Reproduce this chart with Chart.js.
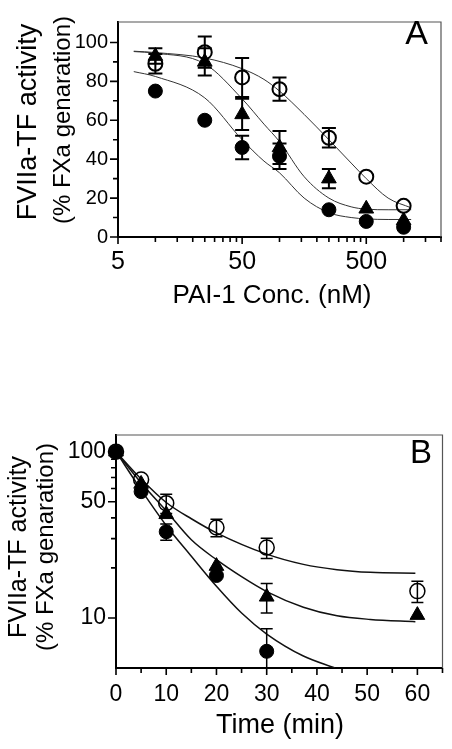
<!DOCTYPE html>
<html lang="en">
<head>
<meta charset="UTF-8">
<title>FVIIa-TF activity</title>
<style>
  body { margin: 0; background: #fff; }
  canvas { position: absolute; left: 0; }
</style>
</head>
<body>
<canvas id="chartA" width="452" height="375" style="top:0"></canvas>
<canvas id="chartB" width="452" height="374" style="top:375px"></canvas>

<script src="https://cdn.jsdelivr.net/npm/chart.js"></script>

<script>
    // ---- panel A : PAI-1 concentration ----
    const concA = [10, 25, 50, 100, 250, 500, 1000];
    const openA = [89, 95, 82, 76, 51, 31, 16];
    const openErrA = [5, 8, 10, 6, 5, 0, 0];
    const triA = [93, 90, 63, 46, 30, 14.5, 8.5];
    const triErrA = [4, 7, 8, 8.5, 5, 0, 0];
    const fillA = [75, 60, 46, 41.5, 14, 8, 5];
    const fillErrA = [0, 0, 6, 6.5, 0, 0, 0];

    // fitted curves
    const fitXA = [6.7, 10, 25, 50, 75, 100, 158, 250, 378, 500, 750, 1150];
    const fitOpenA = [95.5, 94.8, 92, 86.5, 81, 75, 63, 50, 38, 30, 20, 15];
    const fitTriA = [95.3, 94.5, 89, 71, 58, 49, 31, 20, 15.5, 14.3, 14, 14];
    const fitFillA = [85, 82.5, 71.5, 50, 39, 33, 20, 12.5, 10, 9.3, 9, 9];

    const xLabelsA = [5, 50, 500];
    const xMinorA = [10, 15, 20, 25, 30, 35, 40, 45, 100, 150, 200, 250, 300, 350, 400, 450, 1000, 1500, 2000];
    const yLabelsA = [0, 20, 40, 60, 80, 100];
    const yMinorA = [10, 30, 50, 70, 90];

    // ---- panel B : time course ----
    const timeB = [0, 5, 10, 20, 30, 60];
    const openB = [100, 68, 49, 35, 26.5, 14.5];
    const openErrB = [0, 0, 6.5, 4.2, 3.7, 2.1];
    const triB = [100, 64, 42, 20.5, 13.4, 10.4];
    const triErrB = [0, 0, 0, 0, 2.7, 0];
    const fillB = [100, 57.5, 33, 18, 6.3];
    const fillErrB = [0, 0, 3.7, 0, 2.3];

    const fitOpenXB = [0, 5, 10, 15, 20, 30, 37.3, 44, 50.6, 59.6];
    const fitOpenB = [100, 68.5, 49.5, 39.5, 32.5, 24.2, 21, 19.5, 18.8, 18.6];
    const fitTriXB = [0, 5, 10, 15, 20, 25, 30, 37.3, 44, 50.6, 59.6];
    const fitTriB = [100, 65, 44, 29.5, 22.4, 17.7, 14.4, 11.6, 10.3, 9.8, 9.5];
    const fitFillXB = [0, 5, 10, 15, 20, 25, 30, 37.3, 43.6];
    const fitFillB = [100, 59, 36, 23.5, 15.5, 10.7, 8.0, 5.9, 5.0];

    const xLabelsB = [0, 10, 20, 30, 40, 50, 60];
    const xMinorB = [5, 15, 25, 35, 45, 55, 65];
    const yLabelsB = [10, 50, 100];
    const yMinorB = [20, 30, 40, 60, 70, 80, 90];

    const FONT = "'Liberation Sans', Arial, Helvetica, sans-serif";

    function pts(xs, ys) {
        return ys.map((y, i) => ({x: xs[i], y: y}));
    }

    // error bars drawn from the scales
    const errorBars = {
        id: 'errorBars',
        afterDatasetsDraw(chart) {
            const ctx = chart.ctx;
            const ys = chart.scales.y;
            const area = chart.chartArea;
            ctx.save();
            ctx.beginPath();
            ctx.rect(area.left, area.top - 40, area.right - area.left, area.bottom - area.top + 40);
            ctx.clip();
            chart.data.datasets.forEach((ds, di) => {
                if (!ds.errors) return;
                const meta = chart.getDatasetMeta(di);
                ctx.strokeStyle = '#000';
                ctx.lineWidth = ds.errWidth;
                meta.data.forEach((el, i) => {
                    const e = ds.errors[i];
                    if (!e) return;
                    const v = ds.data[i].y;
                    const top = ys.getPixelForValue(v + e);
                    const bot = ys.getPixelForValue(v - e);
                    const w = ds.capWidth;
                    ctx.beginPath();
                    ctx.moveTo(el.x, top); ctx.lineTo(el.x, bot);
                    ctx.moveTo(el.x - w, top); ctx.lineTo(el.x + w, top);
                    ctx.moveTo(el.x - w, bot); ctx.lineTo(el.x + w, bot);
                    ctx.stroke();
                });
            });
            ctx.restore();
        }
    };

    // frame, tick marks and titles
    const decor = {
        id: 'decor',
        afterDraw(chart, args, opts) {
            const ctx = chart.ctx;
            const a = chart.chartArea;
            const xs = chart.scales.x, ys = chart.scales.y;
            ctx.save();
            ctx.strokeStyle = '#555';
            ctx.lineWidth = 1.2;
            ctx.beginPath();
            ctx.moveTo(a.left, a.top); ctx.lineTo(a.right, a.top); ctx.lineTo(a.right, a.bottom);
            ctx.stroke();

            ctx.strokeStyle = '#000';
            ctx.lineWidth = 1.6;
            ctx.beginPath();
            opts.xMajor.forEach(v => { const p = xs.getPixelForValue(v); ctx.moveTo(p, a.bottom); ctx.lineTo(p, a.bottom + 7); });
            opts.xMinor.forEach(v => { const p = xs.getPixelForValue(v); ctx.moveTo(p, a.bottom); ctx.lineTo(p, a.bottom + 5); });
            opts.yMajor.forEach(v => { const p = ys.getPixelForValue(v); ctx.moveTo(a.left, p); ctx.lineTo(a.left - 8, p); });
            opts.yMinor.forEach(v => { const p = ys.getPixelForValue(v); ctx.moveTo(a.left, p); ctx.lineTo(a.left - 5, p); });
            ctx.stroke();

            ctx.fillStyle = '#000';
            ctx.textAlign = 'center';
            ctx.textBaseline = 'middle';
            opts.titles.forEach(t => {
                ctx.save();
                ctx.font = t.size + 'px ' + FONT;
                ctx.translate(t.x, t.y);
                if (t.rot) ctx.rotate(-Math.PI / 2);
                ctx.fillText(t.text, 0, 0);
                ctx.restore();
            });
            ctx.restore();
        }
    };

    function markerSets(open, tri, fill, r, openErr, triErr, fillErr, errW, capW) {
        return [
            {data: fill, pointStyle: 'circle', pointRadius: r.fill, backgroundColor: '#000', borderColor: '#000',
             borderWidth: 1, showLine: false, clip: false, errors: fillErr, errWidth: errW, capWidth: capW},
            {data: tri, pointStyle: 'triangle', pointRadius: r.tri, backgroundColor: '#000', borderColor: '#000',
             borderWidth: 1, showLine: false, clip: false, errors: triErr, errWidth: errW, capWidth: capW},
            {data: open, pointStyle: 'circle', pointRadius: r.open, backgroundColor: 'rgba(255,255,255,0)', borderColor: '#000',
             borderWidth: r.openBorder, showLine: false, clip: false, errors: openErr, errWidth: errW, capWidth: capW}
        ];
    }

    function curve(data, w, color) {
        return {data: data, showLine: true, pointRadius: 0, borderColor: color, borderWidth: w,
                cubicInterpolationMode: 'monotone', fill: false};
    }

    function tickOpts(size, pad, cb) {
        return {color: '#000', font: {size: size, family: FONT}, padding: pad,
                autoSkip: false, maxRotation: 0, minRotation: 0, callback: cb};
    }

    // ---------- chart A ----------
    new Chart(document.getElementById('chartA'), {
        type: 'scatter',
        data: {
            datasets: [
                ...markerSets(pts(concA, openA), pts(concA, triA), pts(concA, fillA),
                    {open: 7, tri: 8.5, fill: 7, openBorder: 2}, openErrA, triErrA, fillErrA, 2, 7),
                curve(pts(fitXA, fitOpenA), 1, '#333'),
                curve(pts(fitXA, fitTriA), 1, '#333'),
                curve(pts(fitXA, fitFillA), 1, '#333')
            ]
        },
        options: {
            responsive: false,
            animation: false,
            layout: {padding: {top: 10, right: 11, left: 0, bottom: 0}},
            plugins: {
                legend: {display: false},
                tooltip: {enabled: false},
                decor: {
                    xMajor: xLabelsA, xMinor: xMinorA, yMajor: yLabelsA, yMinor: yMinorA,
                    titles: [
                        {text: 'FVIIa-TF activity', x: 29, y: 122, size: 27, rot: true},
                        {text: '(% FXa genaration)', x: 63, y: 120, size: 24, rot: true},
                        {text: 'PAI-1 Conc. (nM)', x: 272, y: 296, size: 26},
                        {text: 'A', x: 416.5, y: 35, size: 34}
                    ]
                }
            },
            scales: {
                x: {
                    type: 'logarithmic', min: 5, max: 2000,
                    afterBuildTicks: s => { s.ticks = xLabelsA.map(v => ({value: v})); },
                    afterFit: s => { s.height = 138; },
                    ticks: tickOpts(25, 10, v => String(v)),
                    grid: {display: false, drawTicks: false},
                    border: {display: true, color: '#000', width: 2}
                },
                y: {
                    type: 'linear', min: 0, max: 110.5,
                    afterBuildTicks: s => { s.ticks = yLabelsA.map(v => ({value: v})); },
                    afterFit: s => { s.width = 118; },
                    ticks: tickOpts(20, 10, v => String(v)),
                    grid: {display: false, drawTicks: false},
                    border: {display: true, color: '#000', width: 2}
                }
            }
        },
        plugins: [errorBars, decor]
    });

    // ---------- chart B ----------
    new Chart(document.getElementById('chartB'), {
        type: 'scatter',
        data: {
            datasets: [
                ...markerSets(pts(timeB, openB), pts(timeB, triB), pts(timeB, fillB),
                    {open: 7.5, tri: 8.5, fill: 7, openBorder: 1.5}, openErrB, triErrB, fillErrB, 1.5, 6),
                curve(pts(fitOpenXB, fitOpenB), 1.5, '#111'),
                curve(pts(fitTriXB, fitTriB), 1.5, '#111'),
                curve(pts(fitFillXB, fitFillB), 1.5, '#111')
            ]
        },
        options: {
            responsive: false,
            animation: false,
            layout: {padding: {top: 60, right: 9, left: 0, bottom: 0}},
            plugins: {
                legend: {display: false},
                tooltip: {enabled: false},
                decor: {
                    xMajor: xLabelsB, xMinor: xMinorB, yMajor: yLabelsB, yMinor: yMinorB,
                    titles: [
                        {text: 'FVIIa-TF activity', x: 19, y: 172, size: 25, rot: true},
                        {text: '(% FXa genaration)', x: 46, y: 172, size: 24, rot: true},
                        {text: 'Time (min)', x: 280, y: 351, size: 27},
                        {text: 'B', x: 421, y: 79, size: 33}
                    ]
                }
            },
            scales: {
                x: {
                    type: 'linear', min: 0, max: 65,
                    afterBuildTicks: s => { s.ticks = xLabelsB.map(v => ({value: v})); },
                    afterFit: s => { s.height = 81; },
                    ticks: tickOpts(23, 13, v => String(v)),
                    grid: {display: false, drawTicks: false},
                    border: {display: true, color: '#000', width: 2}
                },
                y: {
                    type: 'logarithmic', min: 5, max: 126,
                    afterBuildTicks: s => { s.ticks = yLabelsB.map(v => ({value: v})); },
                    afterFit: s => { s.width = 116; },
                    ticks: tickOpts(23, 10, v => String(v)),
                    grid: {display: false, drawTicks: false},
                    border: {display: true, color: '#000', width: 2}
                }
            }
        },
        plugins: [errorBars, decor]
    });
</script>
</body>
</html>
